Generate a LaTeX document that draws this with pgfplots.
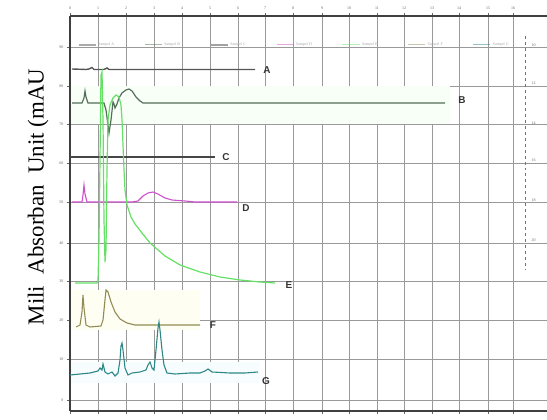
\documentclass[border=0pt]{standalone}
\usepackage{fontspec}
\setmainfont{Liberation Serif}
\setsansfont{Liberation Sans}
\usepackage{pgfplots}
\pgfplotsset{compat=1.18}
\definecolor{cA}{RGB}{85,85,85}
\definecolor{cB}{RGB}{85,110,90}
\definecolor{cC}{RGB}{70,70,70}
\definecolor{cD}{RGB}{205,80,205}
\definecolor{cE}{RGB}{100,225,100}
\definecolor{cF}{RGB}{145,140,85}
\definecolor{cG}{RGB}{45,135,135}
\begin{document}
\begin{tikzpicture}
\useasboundingbox (0,0) rectangle (547bp,420bp);
\begin{axis}[at={(70bp,9bp)}, anchor=south west, scale only axis,
  width=477bp, height=395bp,
  xmin=70, xmax=547, ymin=9, ymax=404,
  axis line style={draw=none},
  xtick={70,98,126,154,182,210,238,265,293,322,349,377,404,432,459,488,513},
  xticklabels={0,1,2,3,4,5,6,7,8,9,10,11,12,13,14,15,16},
  xticklabel pos=right,
  ytick={20,61,100,139,177,218,257,296,334,373},
  yticklabels={0,10,20,30,40,50,60,70,80,90},
  minor y tick num=4,
  tick align=outside, major tick length=3bp, minor tick length=2bp,
  tick style={black!60, line width=0.5bp},
  ticklabel style={font=\fontsize{4}{4}\selectfont, text=black!60},
  grid=major, major grid style={black!40, line width=0.7bp},
  legend style={at={(0.01,0.927)}, anchor=west, draw=none, fill=none,
    font=\fontsize{4}{4}\selectfont, text=black!35,
    /tikz/every even column/.append style={column sep=28bp}},
  legend columns=-1,
  legend image post style={opacity=0.5},
  clip=false,
]
% faint bands
\fill[green!3] (axis cs:71,296) rectangle (axis cs:450,334);
\fill[yellow!5] (axis cs:71,90) rectangle (axis cs:200,130);
\fill[cyan!3] (axis cs:71,37) rectangle (axis cs:260,58);
% axis lines
\draw[line width=1.6bp, black!75] (axis cs:70,404) -- (axis cs:547,404);
\draw[line width=1.8bp, black!75] (axis cs:70,9) -- (axis cs:547,9);
\draw[line width=1.5bp, black!75] (axis cs:70,9) -- (axis cs:70,404);

% A
\addplot[cA, line width=1.4bp] coordinates {
(72,351) (86,350.5) (89,351) (92,352.5) (94,350.5) (104,350.5) (107,352) (109,350.5) (255,350.5)};
\addlegendentry{Sampel A}
% B
\addplot[cB, line width=1.2bp] coordinates {
(72,317) (82,317) (84,322) (85,329) (86,323) (88,317) (104,317) (106,310) (108,295) (109,287) (111,300) (113,318) (114,316) (115,312) (117,316) (119,322) (122,327) (126,330) (129,331) (132,329) (136,323) (140,319) (143,317) (445,317)};
\addlegendentry{Sampel B}
% C
\addplot[cC, line width=1.4bp] coordinates {(70,263) (215,263)};
\addlegendentry{Sampel C}
% D
\addplot[cD, line width=1.1bp] coordinates {
(72,218) (82,218) (83,225) (84,235) (85,226) (87,218) (132,218) (138,219) (143,224) (148,227) (153,228) (158,226) (165,222) (172,220) (185,219) (195,218) (237,218)};
\addlegendentry{Sampel D}
% E
\addplot[cE, line width=1.2bp] coordinates {
(75,137) (97,137) (98,139) (99,180) (100,260) (101,345) (102,348) (103,300) (104,200) (105,158) (106,170) (107,250) (108,300) (110,315) (113,322) (116,325) (119,323) (121,315) (122,300) (123,275) (124,250) (125,230) (127,215) (131,203) (135,196) (142,187) (150,177) (165,164) (180,155) (200,148) (220,143) (240,140) (260,138) (275,137)};
\addlegendentry{Sampel E}
% F
\addplot[cF, line width=1.1bp] coordinates {
(76,93) (80,95) (82,108) (83,125) (84,112) (86,95) (90,93) (101,94) (103,100) (105,120) (106,130) (108,128) (111,118) (115,108) (120,101) (127,97) (135,95) (200,95)};
\addlegendentry{Sampel F}
% G
\addplot[cG, line width=1.1bp] coordinates {
(70,45) (80,46) (90,47) (98,49) (100,52) (102,50) (103,56) (105,48) (108,46) (112,48) (115,44) (118,47) (120,60) (121,74) (122,77) (123,70) (125,52) (128,45) (132,47) (140,48) (146,50) (148,55) (150,58) (152,52) (154,50) (156,70) (158,92) (159,98) (160,90) (162,70) (164,55) (167,47) (175,46) (190,47) (200,47) (205,49) (208,51) (212,48) (230,47) (245,47) (258,48)};
\addlegendentry{Sampel G}

% series labels
\begin{scope}[every node/.style={font=\sffamily\bfseries\fontsize{10}{10}\selectfont, text=black!80}]
\node at (axis cs:267,350) {A};
\node at (axis cs:462,320) {B};
\node at (axis cs:226,263) {C};
\node at (axis cs:246,212) {D};
\node at (axis cs:289,135) {E};
\node at (axis cs:213,95) {F};
\node at (axis cs:266,39) {G};
\end{scope}

% right-hand dashed scale
\draw[dashed, black!55, line width=0.6bp] (axis cs:525,384) -- (axis cs:525,150);
\begin{scope}[every node/.style={font=\fontsize{4}{4}\selectfont, text=black!60, anchor=west}]
\node at (axis cs:528,375) {10};
\node at (axis cs:528,337) {12};
\node at (axis cs:528,297) {14};
\node at (axis cs:528,260) {16};
\node at (axis cs:528,220) {18};
\node at (axis cs:528,180) {20};
\end{scope}
\end{axis}
\node[rotate=90, font=\fontsize{23}{23}\selectfont] at (38bp,223bp) {Mili\ \ Absorban\ \ Unit (mAU};
\end{tikzpicture}
\end{document}
